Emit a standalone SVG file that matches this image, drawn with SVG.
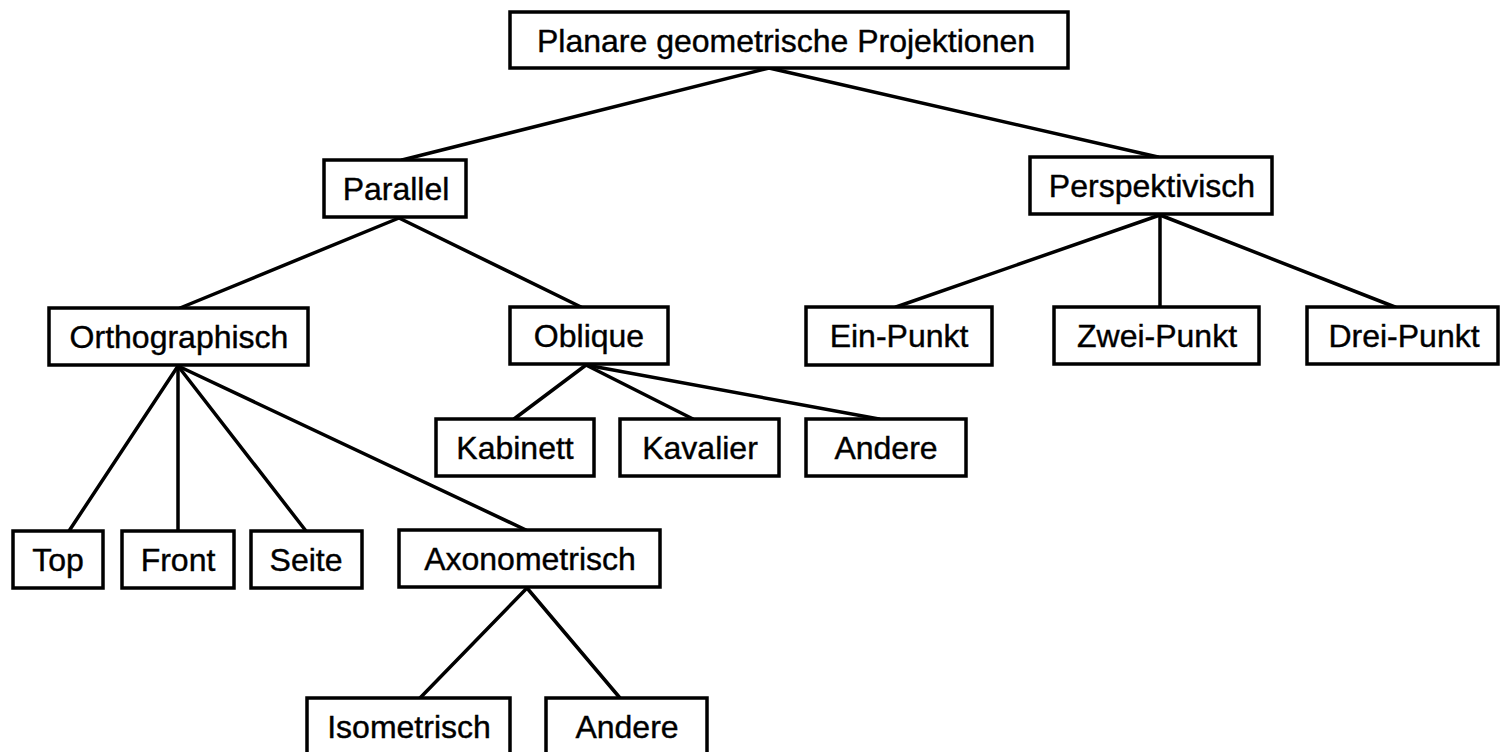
<svg xmlns="http://www.w3.org/2000/svg" width="1501" height="752" viewBox="0 0 1501 752">
<style>
.box{fill:#fff;stroke:#000;stroke-width:3.5}
.lbl{font-family:"Liberation Sans",Arial,sans-serif;font-size:32px;fill:#000;stroke:#000;stroke-width:0.4;text-anchor:middle}
.con line{stroke:#000;stroke-width:3.5;stroke-linecap:round}
</style>
<rect width="1501" height="752" fill="#fff"/>
<g id="connectors" class="con">
<line x1="769" y1="68" x2="402" y2="160"/>
<line x1="769" y1="68" x2="1158" y2="157"/>
<line x1="399" y1="218" x2="180" y2="308"/>
<line x1="399" y1="218" x2="581" y2="307"/>
<line x1="1160" y1="215" x2="896" y2="307"/>
<line x1="1160" y1="215" x2="1160" y2="307"/>
<line x1="1160" y1="215" x2="1395" y2="307"/>
<line x1="178" y1="366" x2="69" y2="531"/>
<line x1="178" y1="366" x2="178" y2="531"/>
<line x1="178" y1="366" x2="306" y2="531"/>
<line x1="178" y1="366" x2="526" y2="530"/>
<line x1="586" y1="365" x2="514" y2="419"/>
<line x1="586" y1="365" x2="693" y2="419"/>
<line x1="586" y1="365" x2="879" y2="419"/>
<line x1="527" y1="588" x2="420" y2="698"/>
<line x1="527" y1="588" x2="620" y2="698"/>
</g>
<g id="root"><rect class="box" x="510" y="12" width="558" height="56"/><text class="lbl" x="786" y="52">Planare geometrische Projektionen</text></g>
<g id="parallel"><rect class="box" x="324" y="160" width="142" height="57"/><text class="lbl" x="396" y="200">Parallel</text></g>
<g id="perspektivisch"><rect class="box" x="1030" y="157" width="242" height="57"/><text class="lbl" x="1152" y="197">Perspektivisch</text></g>
<g id="orthographisch"><rect class="box" x="49" y="308" width="259" height="57"/><text class="lbl" x="179" y="348">Orthographisch</text></g>
<g id="oblique"><rect class="box" x="510" y="307" width="158" height="57"/><text class="lbl" x="589" y="347">Oblique</text></g>
<g id="ein-punkt"><rect class="box" x="806" y="307" width="186" height="58"/><text class="lbl" x="899" y="347">Ein-Punkt</text></g>
<g id="zwei-punkt"><rect class="box" x="1054" y="307" width="205" height="57"/><text class="lbl" x="1157" y="347">Zwei-Punkt</text></g>
<g id="drei-punkt"><rect class="box" x="1307" y="307" width="191" height="57"/><text class="lbl" x="1404" y="347">Drei-Punkt</text></g>
<g id="kabinett"><rect class="box" x="436" y="419" width="158" height="57"/><text class="lbl" x="515" y="459">Kabinett</text></g>
<g id="kavalier"><rect class="box" x="620" y="419" width="159" height="57"/><text class="lbl" x="700" y="459">Kavalier</text></g>
<g id="andere-oblique"><rect class="box" x="806" y="419" width="160" height="57"/><text class="lbl" x="886" y="459">Andere</text></g>
<g id="top"><rect class="box" x="13" y="531" width="90" height="57"/><text class="lbl" x="58" y="571">Top</text></g>
<g id="front"><rect class="box" x="122" y="531" width="112" height="57"/><text class="lbl" x="178" y="571">Front</text></g>
<g id="seite"><rect class="box" x="251" y="531" width="111" height="57"/><text class="lbl" x="306" y="571">Seite</text></g>
<g id="axonometrisch"><rect class="box" x="399" y="530" width="261" height="57"/><text class="lbl" x="530" y="570">Axonometrisch</text></g>
<g id="isometrisch"><rect class="box" x="307" y="698" width="203" height="60"/><text class="lbl" x="409" y="738">Isometrisch</text></g>
<g id="andere-axono"><rect class="box" x="546" y="698" width="161" height="60"/><text class="lbl" x="627" y="738">Andere</text></g>
</svg>
